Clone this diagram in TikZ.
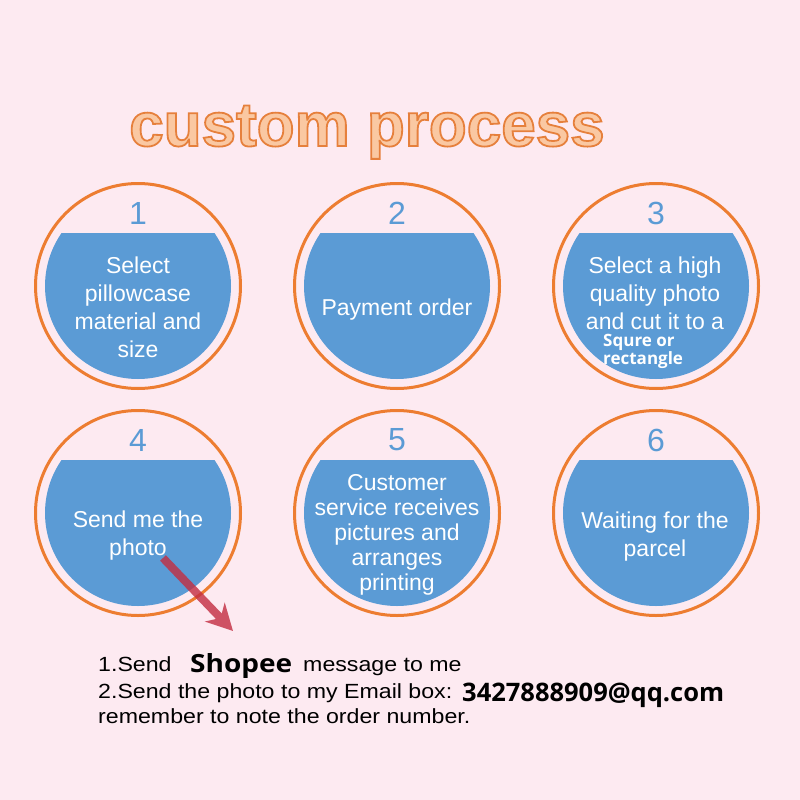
\documentclass[tikz,border=0pt]{standalone}
\usepackage{fontspec}
\setmainfont{Liberation Sans}
\newfontfamily\osans{Open Sans}
\newfontfamily\osanswide{Open Sans}[FakeStretch=1.12]
\newfontfamily\widesans{Liberation Sans}[FakeStretch=1.13]
\usetikzlibrary{arrows.meta}
\definecolor{bg}{RGB}{253,234,241}
\definecolor{ring}{RGB}{237,125,49}
\definecolor{bluefill}{RGB}{91,155,213}
\definecolor{titlefill}{RGB}{250,200,162}
\definecolor{arrowred}{RGB}{195,45,65}
\newcommand\outlinetext[1]{%
  \special{pdf:literal direct 2 Tr 1.8 w 0.902 0.502 0.235 RG}#1\special{pdf:literal direct 0 Tr}}
\tikzset{
  ringc/.style={draw=ring, line width=3pt, circle, minimum size=205pt, inner sep=0pt},
  num/.style={text=bluefill, inner sep=0pt, font=\fontsize{32}{32}\selectfont},
  ctext/.style={text=white, inner sep=0pt, align=center, font=\fontsize{23}{28}\selectfont},
  bottomtxt/.style={anchor=base west, inner sep=0pt, text=black, font=\widesans\fontsize{20.5}{20.5}\selectfont},
  boldtxt/.style={anchor=base west, inner sep=0pt, text=black, font=\osanswide\bfseries\fontsize{25}{25}\selectfont},
}
\newcommand\procstep[4]{%
  \node[ringc] (ring#1) at (#2,#3) {};
  \begin{scope}
    \clip (#2-100,#3-53) rectangle (#2+100,#3+100);
    \fill[bluefill] (ring#1.center) circle[radius=93pt];
  \end{scope}
  \node[num] (num#1) at (#2,#3-73) {#4};
}
\begin{document}
\begin{tikzpicture}[x=1pt,y=-1pt]
\fill[bg] (0,0) rectangle (800,800);
\useasboundingbox (0,0) rectangle (800,800);
\node[anchor=base, inner sep=0pt, text=titlefill, font=\bfseries\fontsize{62}{62}\selectfont] (title) at (367,146)
  {\outlinetext{custom process}};
\procstep{1}{138}{286}{1}
\procstep{2}{397}{286}{2}
\procstep{3}{656}{286}{3}
\procstep{4}{138}{513}{4}
\procstep{5}{397}{513}{5}
\procstep{6}{656}{513}{6}
\node[ctext] (t1) at (138,307) {Select\\pillowcase\\material and\\size};
\node[ctext] (t2) at (397,310) {Payment order};
\node[ctext] (t3) at (655,293) {Select a high\\quality photo\\and cut it to a};
\node[anchor=north west, align=left, inner sep=0pt, text=white, font=\osans\bfseries\fontsize{17}{16}\selectfont] (t3b) at (603,334) {Squre or\\rectangle};
\node[ctext] (t4) at (138,536) {Send me the\\photo};
\node[ctext, font=\fontsize{23}{25}\selectfont] (t5) at (397,535) {Customer\\service receives\\pictures and\\arranges\\printing};
\node[ctext] (t6) at (655,537) {Waiting for the\\parcel};
\coordinate (as) at (163,558);
\coordinate (ae) at (233,631);
\begin{scope}[transparency group, opacity=0.8]
\draw[arrowred, line width=8pt, -{Stealth[length=26pt,width=27pt,inset=8pt]}] (as) -- (ae);
\end{scope}
\node[bottomtxt] (l1a) at (98,671) {1.Send};
\node[boldtxt] (shopee) at (190,672) {Shopee};
\node[bottomtxt] (l1b) at (303,671) {message to me};
\node[bottomtxt] (l2) at (98,698) {2.Send the photo to my Email box:};
\node[boldtxt, font=\osans\bfseries\fontsize{25.5}{25.5}\selectfont] (email) at (462,701) {3427888909@qq.com};
\node[bottomtxt] (l3) at (98,723) {remember to note the order number.};
\end{tikzpicture}
\end{document}
